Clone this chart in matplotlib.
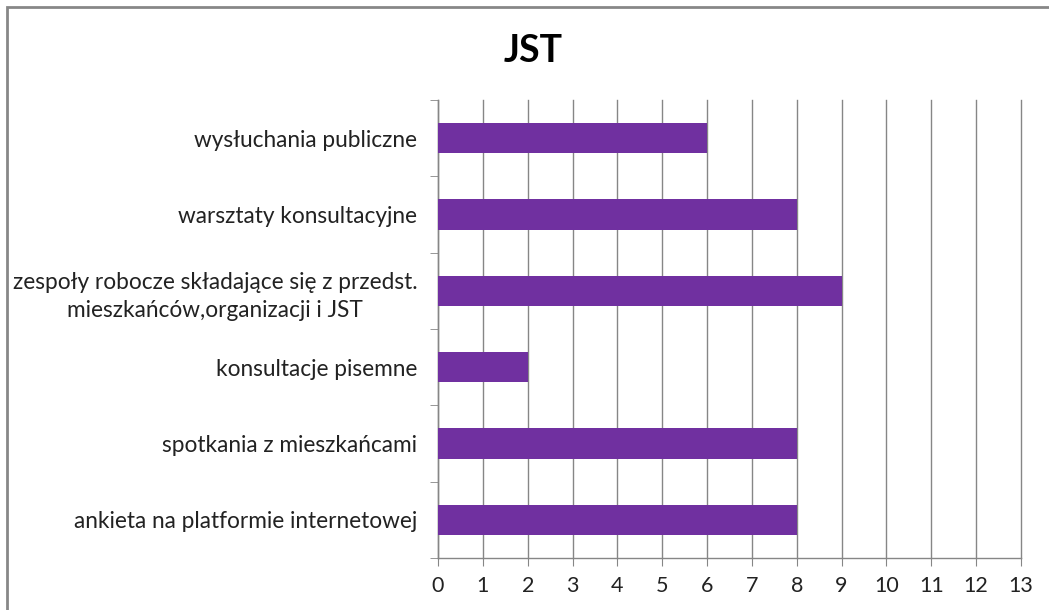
import numpy as np
import matplotlib.pyplot as plt
from matplotlib.patches import Rectangle

plt.rcParams['font.family'] = ['Lato', 'DejaVu Sans']

# consultation forms, listed bottom to top
categories = [
    "ankieta na platformie internetowej",
    "spotkania z mieszkańcami",
    "konsultacje pisemne",
    "zespoły robocze składające się z przedst.\nmieszkańców,organizacji i JST",
    "warsztaty konsultacyjne",
    "wysłuchania publiczne",
]
counts = [8, 8, 2, 9, 8, 6]
x_ticks = list(range(0, 14))

bar_color = "#7030A0"
grid_color = "#868686"

fig = plt.figure(figsize=(10.49, 6.10), dpi=100)
ax = fig.add_axes([438 / 1049, 1 - 558 / 610, (1021 - 438) / 1049, (558 - 100) / 610])

y = np.arange(len(categories))
ax.barh(y, counts, height=0.4, color=bar_color, zorder=3)

ax.set_xlim(0, 13)
ax.set_ylim(-0.5, len(categories) - 0.5)
ax.set_xticks(x_ticks)
ax.set_xticklabels([str(t) for t in x_ticks], fontsize=15.5, color="#222222")
ax.xaxis.grid(True, color=grid_color, linewidth=1.0, zorder=0)
for line in ax.get_xgridlines():
    line.set_clip_on(False)

# category labels sit between the boundary ticks
ax.set_yticks(y)
ax.set_yticklabels(categories, fontsize=16.3, color="#222222", ha="right",
                   multialignment="center", linespacing=1.45)
ax.tick_params(axis="y", length=0, pad=15)
ax.set_yticks(np.arange(-0.5, len(categories), 1.0), minor=True)
ax.tick_params(axis="y", which="minor", length=6, color=grid_color, direction="out")
ax.tick_params(axis="x", length=6, color=grid_color, direction="out", pad=7)

for side in ["top", "right"]:
    ax.spines[side].set_visible(False)
for side in ["left", "bottom"]:
    ax.spines[side].set_color(grid_color)
    ax.spines[side].set_linewidth(1.0)

fig.text(533 / 1049, 1 - 51 / 610, "JST", fontsize=27, fontweight="bold",
         ha="center", va="center", color="black")

# chart area border (top and left edges visible)
fig.patches.append(Rectangle((7 / 1049, -0.1), 1.2, 1 - 7 / 610 + 0.1,
                             transform=fig.transFigure, fill=False,
                             edgecolor="#878787", linewidth=2))

fig.savefig("out.png", dpi=100)
